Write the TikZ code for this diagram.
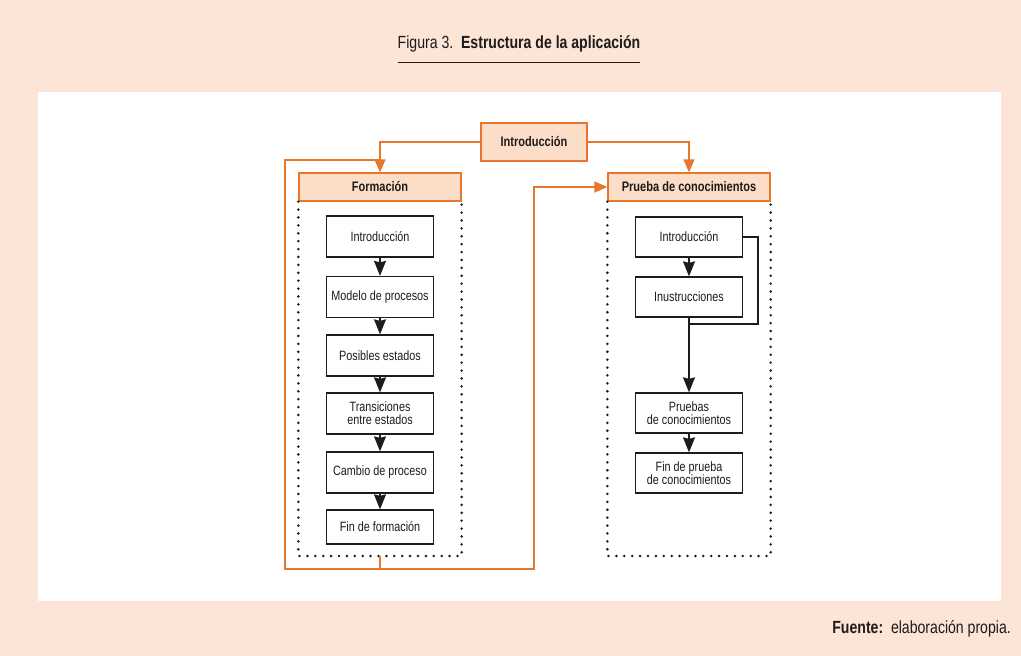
\documentclass[tikz,border=0pt]{standalone}
\usepackage{fontspec}
\setmainfont{Liberation Sans}[FakeStretch=0.8]
\usetikzlibrary{arrows.meta}
\definecolor{peach}{RGB}{252,228,214}
\definecolor{boxfill}{RGB}{252,221,200}
\definecolor{orangeline}{RGB}{232,118,44}
\definecolor{ink}{RGB}{30,27,28}
\begin{document}
\begin{tikzpicture}[x=1pt,y=-1pt,
  every node/.style={text=ink, inner sep=0pt},
  headbox/.style={draw=orangeline, fill=boxfill, line width=1.3pt,
    font=\fontsize{13.8}{13}\selectfont\bfseries, minimum height=28pt},
  stepbox/.style={draw=ink, fill=white, line width=1.3pt, minimum width=107pt,
    minimum height=41pt, align=center, font=\fontsize{13.5}{13}\selectfont},
  flow/.style={draw=ink, line width=1.3pt, -{Stealth[inset=1.5pt,length=15pt,width=12pt]}},
  plain/.style={draw=ink, line width=1.3pt},
  oflow/.style={draw=orangeline, line width=1.3pt, -{Triangle[length=13pt,width=11pt]}},
  oline/.style={draw=orangeline, line width=1.3pt},
  dotframe/.style={draw=ink, line width=2.8pt, line cap=round, dash pattern=on 0pt off 7.9pt}
]
\useasboundingbox (0,0) rectangle (1021,656);
\fill[peach] (0,0) rectangle (1021,656);
\fill[white] (38,92) rectangle (1001,601);

% caption
\node (title) at (519,44) {\fontsize{17.6}{20}\selectfont Figura 3.\ \ \textbf{Estructura de la aplicación}};
\draw[ink, line width=1pt] (title.west |- 0,62) -- (title.east |- 0,62);
\node[anchor=east] (source) at (1011,629) {\fontsize{17.6}{20}\selectfont\textbf{Fuente:}\ \ elaboración propia.};

% top level
\node[headbox, minimum width=106pt, minimum height=38pt] (intro) at (534,142) {Introducción};
\node[headbox, minimum width=162pt] (form) at (380,187) {Formación};
\node[headbox, minimum width=162pt] (test) at (689,187) {Prueba de conocimientos};

% dotted frames below the two sections
\coordinate (formbot) at (380,556);
\coordinate (testbot) at (689,556);
\draw[dotframe] (form.south west) |- (formbot) -| (form.south east);
\draw[dotframe] (test.south west) |- (testbot) -| (test.south east);

% orange connectors
\coordinate (loopdown) at (380,569);
\coordinate (loopleft) at (285,160);
\coordinate (loopright) at (534,187);
\draw[oflow] (intro.west) -| (form.north);
\draw[oflow] (intro.east) -| (test.north);
\draw[oline] (formbot) -- (loopdown) -| (loopleft) -- (loopleft -| form.north);
\draw[oflow] (loopdown) -| (loopright) -- (test.west);

% training steps
\node[stepbox] (f1) at (380,236.5) {Introducción};
\node[stepbox] (f2) at (380,297) {Modelo de procesos};
\node[stepbox] (f3) at (380,355.5) {Posibles estados};
\node[stepbox] (f4) at (380,413.5) {Transiciones\\entre estados};
\node[stepbox] (f5) at (380,472.5) {Cambio de proceso};
\node[stepbox, minimum height=34pt] (f6) at (380,527) {Fin de formación};
\draw[flow] (f1.south) -- (f2.north);
\draw[flow] (f2.south) -- (f3.north);
\draw[flow] (f3.south) -- (f4.north);
\draw[flow] (f4.south) -- (f5.north);
\draw[flow] (f5.south) -- (f6.north);

% test steps
\node[stepbox, minimum height=40pt] (p1) at (689,237) {Introducción};
\node[stepbox, minimum height=40pt] (p2) at (689,297) {Inustrucciones};
\node[stepbox, minimum height=40pt] (p3) at (689,413) {Pruebas\\de conocimientos};
\node[stepbox, minimum height=40pt] (p4) at (689,473) {Fin de prueba\\de conocimientos};
\coordinate (bypass) at (758,324);
\draw[flow] (p1.south) -- (p2.north);
\draw[plain] (p1.east) -| (bypass) -- (bypass -| p2.south);
\draw[flow] (p2.south) -- (p3.north);
\draw[flow] (p3.south) -- (p4.north);
\end{tikzpicture}
\end{document}
